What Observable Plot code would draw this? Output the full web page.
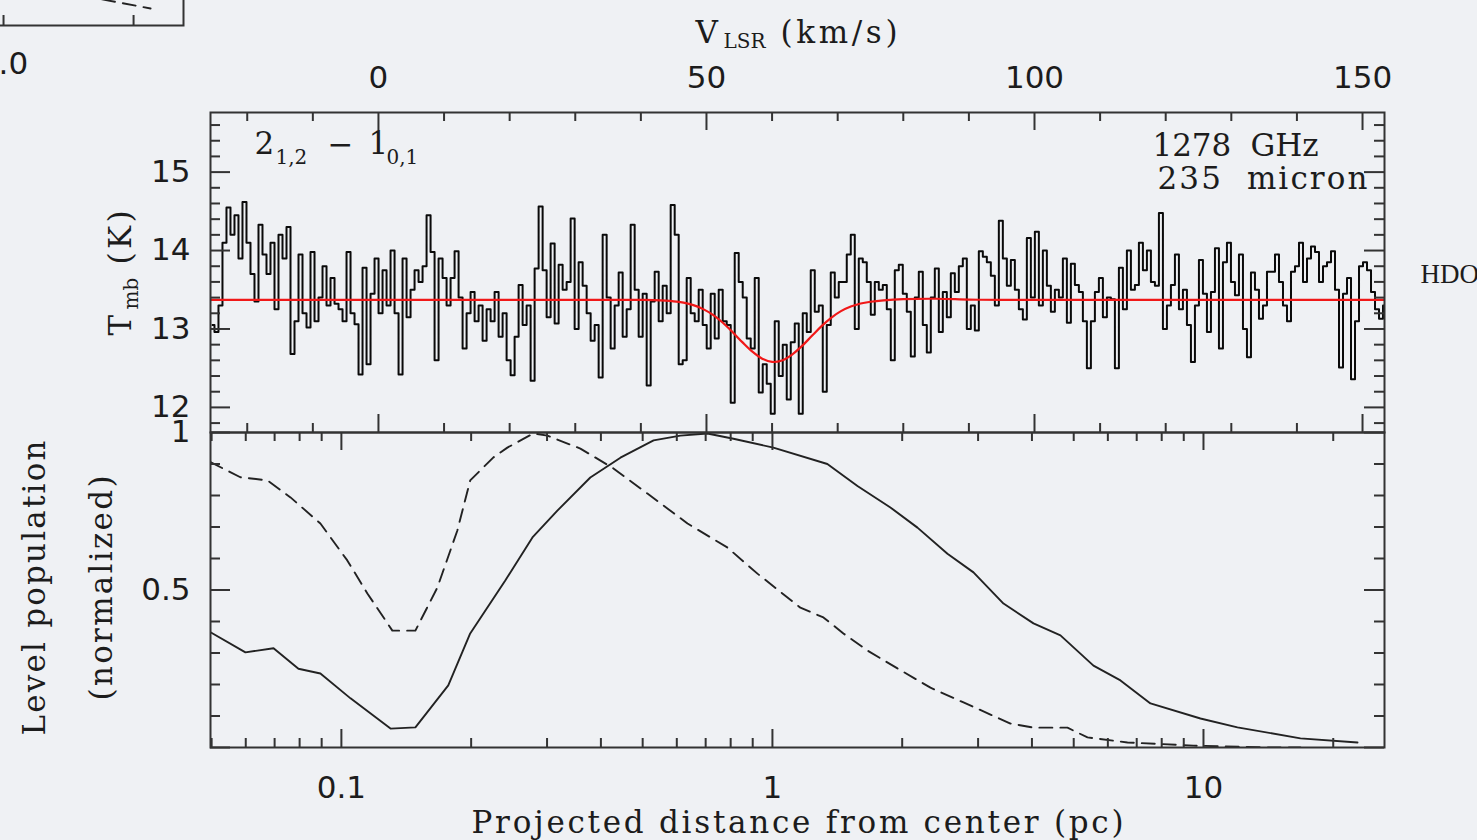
<!DOCTYPE html>
<html><head><meta charset="utf-8">
<script src="https://cdn.jsdelivr.net/npm/d3@7"></script>
<script src="https://cdn.jsdelivr.net/npm/@observablehq/plot@0.6"></script>
<style>
html,body{margin:0;padding:0;background:#eff1f4;}
#wrap{position:relative;width:1477px;height:840px;overflow:hidden;background:#eff1f4;}
#wrap svg{position:absolute;max-width:none;overflow:visible;background:transparent;}
</style></head><body><div id="wrap"></div>
<script>
// ---------- Data ----------
// Spectrum: HDO 2(1,2)-1(0,1), channel grid
const vStart = -25.3, vStep = 0.61;
const tmb = [
13.05,12.96,13.3,14.1,14.55,14.2,14.45,13.9,14.62,14.1,
13.7,13.35,14.33,13.95,13.7,14.1,13.25,14.2,13.9,14.3,
12.68,13.1,13.95,13.2,13.02,13.98,13.1,13.4,13.8,13.3,
13.65,13.32,13.25,13.1,13.98,13.2,13.06,12.42,13.78,12.55,
13.45,13.9,13.2,13.75,13.3,14.0,13.2,12.42,13.9,13.15,
13.5,13.75,13.6,13.8,14.45,13.98,12.6,13.9,13.65,
13.3,13.65,13.99,13.4,12.75,13.2,13.47,13.1,13.3,12.85,
13.25,13.1,13.47,12.9,13.2,12.6,12.41,12.9,13.56,13.05,
13.3,12.34,13.77,14.56,13.75,13.15,14.09,13.07,13.82,13.5,
13.6,14.41,13.0,13.85,13.55,13.2,12.85,13.05,12.38,14.2,
13.4,12.75,13.3,13.72,12.9,13.25,14.33,13.5,12.9,13.45,
12.28,13.35,13.73,13.1,13.55,13.2,14.58,14.2,12.55,
12.6,13.65,13.2,13.1,13.5,13.05,12.75,13.45,12.88,13.5,
13.1,13.05,12.06,13.97,13.6,13.4,12.88,12.75,13.65,12.19,
12.55,12.3,11.92,13.1,12.4,12.8,12.1,12.83,13.07,11.92,
13.2,12.96,13.75,13.22,13.3,12.2,13.05,13.72,13.4,13.6,
13.6,13.95,14.2,13.0,13.9,13.85,13.6,13.18,13.6,13.5,
13.56,13.25,12.6,13.75,13.82,13.45,13.22,12.65,13.4,
13.73,13.05,12.7,13.4,13.77,12.96,13.47,13.15,13.71,13.47,
13.8,13.9,13.0,13.3,12.98,13.99,13.92,13.85,13.68,13.3,
14.38,13.9,13.55,13.88,13.5,13.25,13.12,14.16,13.4,14.24,
13.3,14.0,13.55,13.22,13.5,13.4,13.9,13.08,13.83,13.56,
13.47,13.1,12.5,13.1,13.47,13.65,13.15,13.4,13.38,12.5,
13.78,13.25,14.0,13.5,13.56,14.1,13.75,14.0,13.6,
13.55,14.48,13.0,13.3,13.56,13.95,13.25,13.5,13.05,12.58,
13.3,13.88,13.45,12.96,13.47,14.03,12.75,13.85,14.1,13.6,
13.43,13.95,13.0,12.64,13.72,13.5,13.13,13.3,13.73,13.73,
13.95,13.6,13.3,13.1,13.73,13.8,14.1,13.6,13.9,14.05,
13.98,13.6,13.8,13.85,13.99,13.5,12.51,13.45,13.65,12.36,
13.1,13.8,13.85,13.75,13.47,13.25,13.13,13.3
];
// Fitted model (red)
const fitV = [-25.6,0,30,40,42,45,46.5,48,49.5,51,52.5,54,55.5,57,58.5,60,61.5,63,64.5,66,67.5,69,70.5,72,73.5,75,77,80,85,90,95,110,153.35];
const fitT = [13.37,13.37,13.37,13.37,13.367,13.353,13.335,13.304,13.253,13.179,13.079,12.958,12.829,12.71,12.621,12.58,12.598,12.67,12.778,12.906,13.033,13.142,13.227,13.286,13.325,13.347,13.365,13.38,13.385,13.375,13.37,13.37,13.37];

// Level populations vs projected distance
const distSolid = [0.0497,0.0599,0.0696,0.0795,0.0894,0.105,0.130,0.1485,0.177,0.199,0.240,0.2775,0.317,0.378,0.444,0.530,0.6115,0.7066,0.812,1.005,1.341,1.575,1.878,2.170,2.547,2.927,3.436,4.033,4.658,5.556,6.418,7.534,9.84,11.99,16.79,22.77];
const popSolid  = [0.366,0.302,0.315,0.25,0.235,0.156,0.06,0.064,0.197,0.362,0.53,0.667,0.752,0.857,0.92,0.975,0.99,0.997,0.98,0.952,0.9,0.83,0.762,0.698,0.615,0.556,0.457,0.394,0.356,0.26,0.213,0.14,0.092,0.064,0.029,0.016];
const distDashed = [0.0497,0.0583,0.0674,0.0762,0.0894,0.1032,0.1149,0.1313,0.1485,0.1670,0.1858,0.199,0.2253,0.2427,0.2789,0.3006,0.3585,0.4277,0.5129,0.6353,0.786,0.923,1.161,1.313,1.461,1.661,1.950,2.326,2.775,3.566,4.033,4.836,5.382,6.664,9.48,14.08,16.79];
const popDashed  = [0.906,0.858,0.848,0.794,0.711,0.594,0.489,0.371,0.371,0.508,0.689,0.848,0.921,0.952,0.997,0.99,0.949,0.886,0.806,0.711,0.635,0.552,0.444,0.413,0.362,0.308,0.251,0.19,0.143,0.076,0.063,0.063,0.032,0.016,0.006,0,0];

// Ticks
const vMajor = [0, 50, 100, 150];
const vMinor = [-20,-10,10,20,30,40,60,70,80,90,110,120,130,140];
const tMajor = [12, 13, 14, 15];
const tMinor = [11.8,12.2,12.4,12.6,12.8,13.2,13.4,13.6,13.8,14.2,14.4,14.6,14.8,15.2,15.4,15.6];
const dMajor = [0.1, 1, 10];
const dMinor = [0.05,0.06,0.07,0.08,0.09,0.2,0.3,0.4,0.5,0.6,0.7,0.8,0.9,2,3,4,5,6,7,8,9,20];
const pMajor = [0, 0.5, 1];
const pMinor = [0.1,0.2,0.3,0.4,0.6,0.7,0.8,0.9];
const pLabels = [0.5, 1];

// Neighbour panel fragment (cut at top-left)
const fragTicks = [1.0, 1.5];
const fragLabels = [1.0];
const fragDashX = [1.30, 1.5654];
const fragDashY = [0.30, 0.17];

// ---------- Rendering ----------
const INK = "#333";
const SERIF = "DejaVu Serif";
const SANS = "DejaVu Sans";
const W = 1477;
const FW = 1174; // frame width
const wrap = document.getElementById("wrap");

function ticksX(values, len, frameH) {
  return [
    Plot.tickX(values, {x: d => d, insetBottom: frameH - len, stroke: INK, strokeWidth: 2}),
    Plot.tickX(values, {x: d => d, insetTop: frameH - len, stroke: INK, strokeWidth: 2})
  ];
}
function ticksY(values, len) {
  return [
    Plot.tickY(values, {y: d => d, insetRight: FW - len, stroke: INK, strokeWidth: 2}),
    Plot.tickY(values, {y: d => d, insetLeft: FW - len, stroke: INK, strokeWidth: 2})
  ];
}
function label(s, o) {
  return Plot.text([s], {text: d => d, fill: "#1c1c1c", fontFamily: SERIF, fontSize: 31,
    textAnchor: "start", lineAnchor: "bottom", ...o});
}
function fit(svg, map) {
  svg.querySelectorAll("text").forEach(t => {
    const k = t.textContent;
    if (map[k] != null) { t.setAttribute("textLength", map[k]); t.setAttribute("lengthAdjust", "spacing"); }
  });
}
function place(svg, left, top) {
  svg.style.position = "absolute";
  svg.style.left = left + "px";
  svg.style.top = top + "px";
  svg.style.background = "transparent";
  svg.style.overflow = "visible";
  svg.style.maxWidth = "none";
  wrap.appendChild(svg);
}

const spec = tmb.map((t, i) => ({v: vStart + i * vStep, t}));
const model = fitV.map((v, i) => ({v, t: fitT[i]}));

const topPlot = Plot.plot({
  width: W, height: 432,
  marginLeft: 210, marginRight: 93, marginTop: 112, marginBottom: 0,
  style: {fontFamily: SANS, fontSize: "31px", color: "#1c1c1c", background: "transparent"},
  x: {domain: [-25.6, 153.35]},
  y: {domain: [11.68, 15.76]},
  marks: [
    Plot.line(spec, {x: "v", y: "t", curve: "step", stroke: "#0a0a0a", strokeWidth: 2, clip: true}),
    Plot.line(model, {x: "v", y: "t", curve: "catmull-rom", stroke: "#f01818", strokeWidth: 2.2, clip: true}),
    ...ticksX(vMajor, 18, 320),
    ...ticksX(vMinor, 9, 320),
    ...ticksY(tMajor, 20),
    ...ticksY(tMinor, 10),
    Plot.frame({stroke: INK, strokeWidth: 2}),
    Plot.axisX({anchor: "top", ticks: vMajor, tickSize: 0, tickPadding: 25, label: null, fontSize: 31, fontFamily: SANS, tickFormat: d => String(d)}),
    Plot.axisY({anchor: "left", ticks: tMajor, tickSize: 0, tickPadding: 20, label: null, fontSize: 31, fontFamily: SANS, tickFormat: d => String(d)}),
    // top axis title  V_LSR (km/s)
    label("V", {frameAnchor: "top-left", dx: 485, dy: -70}),
    label("LSR", {frameAnchor: "top-left", dx: 513, dy: -65, fontSize: 20}),
    label("(km/s)", {frameAnchor: "top-left", dx: 570, dy: -70}),
    // transition label 2_{1,2} - 1_{0,1}
    label("2", {frameAnchor: "top-left", dx: 44, dy: 41}),
    label("1,2", {frameAnchor: "top-left", dx: 65, dy: 51, fontSize: 20}),
    label("\u2212", {frameAnchor: "top-left", dx: 117, dy: 42}),
    label("1", {frameAnchor: "top-left", dx: 158, dy: 41}),
    label("0,1", {frameAnchor: "top-left", dx: 176, dy: 51, fontSize: 20}),
    label("1278\u00a0\u00a0GHz", {frameAnchor: "top-right", dx: -232, dy: 43}),
    label("235\u00a0\u00a0micron", {frameAnchor: "top-right", dx: -227, dy: 76}),
    label("HDO", {frameAnchor: "top-right", dx: 36, dy: 170, fontFamily: "Liberation Serif", fontSize: 27}),
    // y title T_mb (K)
    label("T", {frameAnchor: "left", rotate: -90, dx: -80, dy: 63}),
    label("mb", {frameAnchor: "left", rotate: -90, dx: -73, dy: 37, fontSize: 20}),
    label("(K)", {frameAnchor: "left", rotate: -90, dx: -80, dy: -8})
  ]
});
fit(topPlot, {"(km/s)": 117, "1278\u00a0\u00a0GHz": 166, "235\u00a0\u00a0micron": 210, "(K)": 54});
place(topPlot, 0, 0);

const solid = distSolid.map((d, i) => ({d, p: popSolid[i]}));
const dashed = distDashed.map((d, i) => ({d, p: popDashed[i]}));

const botPlot = Plot.plot({
  width: W, height: 408,
  marginLeft: 210, marginRight: 93, marginTop: 0, marginBottom: 93,
  style: {fontFamily: SANS, fontSize: "31px", color: "#1c1c1c", background: "transparent"},
  x: {type: "log", domain: [0.0497, 26.3]},
  y: {domain: [0, 1]},
  marks: [
    Plot.line(solid, {x: "d", y: "p", stroke: "#222", strokeWidth: 1.9, clip: true}),
    Plot.line(dashed, {x: "d", y: "p", stroke: "#222", strokeWidth: 1.9, strokeDasharray: "13,8", clip: true}),
    ...ticksX(dMajor, 18, 315),
    ...ticksX(dMinor, 9, 315),
    ...ticksY(pMajor, 20),
    ...ticksY(pMinor, 10),
    Plot.frame({stroke: INK, strokeWidth: 2}),
    Plot.axisX({anchor: "bottom", ticks: dMajor, tickSize: 0, tickPadding: 28, label: null, fontSize: 31, fontFamily: SANS, tickFormat: d => String(d)}),
    Plot.axisY({anchor: "left", ticks: pLabels, tickSize: 0, tickPadding: 20, label: null, fontSize: 31, fontFamily: SANS, tickFormat: d => String(d)}),
    label("Level population", {frameAnchor: "left", rotate: -90, dx: -166, dy: -2, textAnchor: "middle"}),
    label("(normalized)", {frameAnchor: "left", rotate: -90, dx: -99, dy: -2, textAnchor: "middle"}),
    label("Projected distance from center (pc)", {frameAnchor: "bottom", dy: 85, textAnchor: "middle"})
  ]
});
fit(botPlot, {"Level population": 295, "(normalized)": 225, "Projected distance from center (pc)": 652});
place(botPlot, 0, 432);

const fragPlot = Plot.plot({
  width: 200, height: 150,
  marginLeft: 0, marginRight: 0, marginTop: 0, marginBottom: 50,
  style: {fontFamily: SANS, fontSize: "31px", color: "#1c1c1c", background: "transparent"},
  x: {domain: [0.923, 1.692]},
  y: {domain: [0, 1]},
  marks: [
    Plot.line(fragDashX.map((x, i) => ({x, y: fragDashY[i]})), {x: "x", y: "y", stroke: "#222", strokeWidth: 1.9, strokeDasharray: "13,8", clip: true}),
    Plot.tickX(fragTicks, {x: d => d, insetTop: 90, stroke: INK, strokeWidth: 2}),
    Plot.frame({stroke: INK, strokeWidth: 2}),
    Plot.axisX({anchor: "bottom", ticks: fragLabels, tickSize: 0, tickPadding: 26, label: null, fontSize: 31, fontFamily: SANS, tickFormat: d => d.toFixed(1)})
  ]
});
place(fragPlot, -17, -75);
</script></body></html>
